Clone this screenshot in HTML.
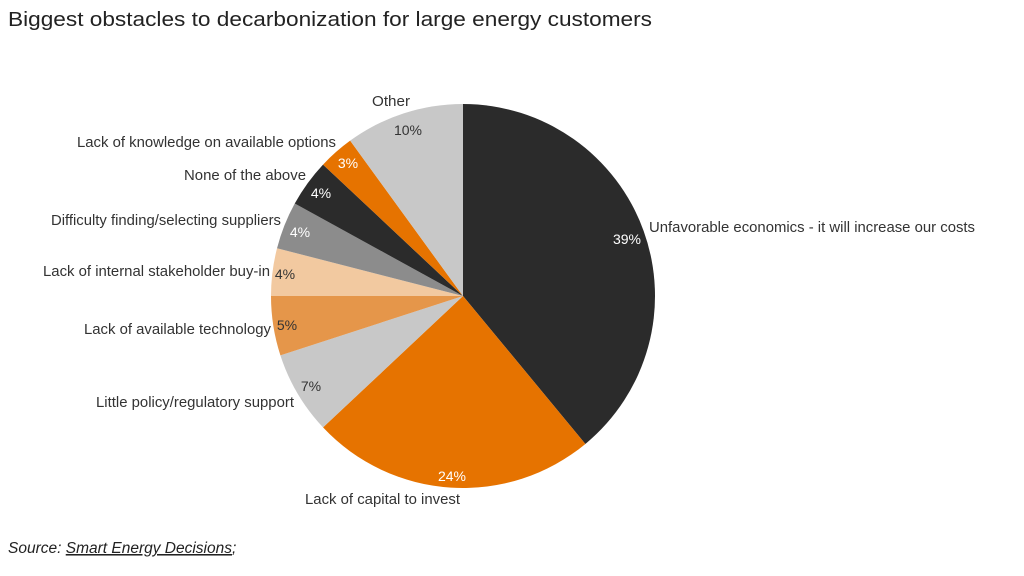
<!DOCTYPE html>
<html><head><style>
body{margin:0;background:#fff;}
svg{display:block;font-family:"Liberation Sans",Arial,sans-serif;}
</style></head><body>
<svg id="s" width="1024" height="576" viewBox="0 0 1024 576">
<text x="8" y="26" font-size="20" fill="#222" textLength="644" lengthAdjust="spacingAndGlyphs">Biggest obstacles to decarbonization for large energy customers</text>
<g id="pie"></g>
<g font-size="14.5" fill="#333" lengthAdjust="spacingAndGlyphs">
<text x="372" y="106" textLength="38" lengthAdjust="spacingAndGlyphs">Other</text>
<text x="77" y="147" textLength="259" lengthAdjust="spacingAndGlyphs">Lack of knowledge on available options</text>
<text x="184" y="180" textLength="122" lengthAdjust="spacingAndGlyphs">None of the above</text>
<text x="51" y="225" textLength="230" lengthAdjust="spacingAndGlyphs">Difficulty finding/selecting suppliers</text>
<text x="43" y="276" textLength="227" lengthAdjust="spacingAndGlyphs">Lack of internal stakeholder buy-in</text>
<text x="84" y="334" textLength="187" lengthAdjust="spacingAndGlyphs">Lack of available technology</text>
<text x="96" y="407" textLength="198" lengthAdjust="spacingAndGlyphs">Little policy/regulatory support</text>
<text x="305" y="504" textLength="155" lengthAdjust="spacingAndGlyphs">Lack of capital to invest</text>
<text x="649" y="232" textLength="326" lengthAdjust="spacingAndGlyphs">Unfavorable economics - it will increase our costs</text>
</g>
<g font-size="14" text-anchor="middle">
<text x="627" y="244" fill="#fff">39%</text>
<text x="452" y="481" fill="#fff">24%</text>
<text x="311" y="391" fill="#333">7%</text>
<text x="287" y="330" fill="#333">5%</text>
<text x="285" y="279" fill="#333">4%</text>
<text x="300" y="237" fill="#fff">4%</text>
<text x="321" y="198" fill="#fff">4%</text>
<text x="348" y="168" fill="#fff">3%</text>
<text x="408" y="135" fill="#333">10%</text>
</g>
<text x="8" y="553" font-size="15.5" font-style="italic" fill="#222">Source: <tspan text-decoration="underline">Smart Energy Decisions</tspan>;</text>
</svg>
<script>
var cx=463,cy=296,r=192;
var d=[[39,"#2b2b2b"],[24,"#e67300"],[7,"#c8c8c8"],[5,"#e5964a"],[4,"#f2c9a0"],[4,"#8c8c8c"],[4,"#2b2b2b"],[3,"#e67300"],[10,"#c8c8c8"]];
var a=0,g=document.getElementById("pie"),h="";
d.forEach(function(s){
 var a1=a+s[0]/100*2*Math.PI;
 var x0=cx+r*Math.sin(a),y0=cy-r*Math.cos(a),x1=cx+r*Math.sin(a1),y1=cy-r*Math.cos(a1);
 h+='<path d="M'+cx+','+cy+'L'+x0+','+y0+'A'+r+','+r+' 0 '+(a1-a>Math.PI?1:0)+' 1 '+x1+','+y1+'Z" fill="'+s[1]+'"/>';
 a=a1;
});
g.innerHTML=h;
</script>
</body></html>
